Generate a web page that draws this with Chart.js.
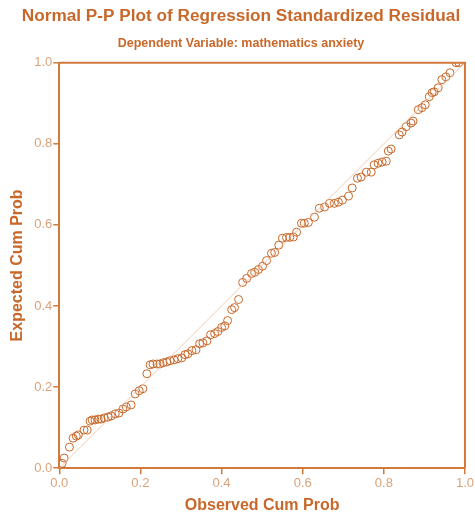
<!DOCTYPE html>
<html>
<head>
<meta charset="utf-8">
<script src="https://cdn.jsdelivr.net/npm/chart.js"></script>
<style>
  html, body { margin: 0; padding: 0; background: #fff; }
  #wrap { width: 475px; height: 518px; position: relative; }
</style>
</head>
<body>
<div id="wrap"><canvas id="pp"></canvas></div>
<script>
// Observed vs expected cumulative probabilities
const observed = [0.007, 0.012, 0.025, 0.034, 0.042, 0.047, 0.061, 0.069, 0.076, 0.081,
  0.088, 0.096, 0.103, 0.111, 0.120, 0.128, 0.138, 0.147, 0.157, 0.165,
  0.177, 0.187, 0.197, 0.206, 0.216, 0.224, 0.231, 0.241, 0.248, 0.256,
  0.265, 0.273, 0.283, 0.292, 0.302, 0.310, 0.317, 0.327, 0.337, 0.346,
  0.354, 0.364, 0.373, 0.383, 0.391, 0.400, 0.408, 0.415, 0.425, 0.432,
  0.442, 0.452, 0.462, 0.474, 0.482, 0.491, 0.501, 0.511, 0.523, 0.531,
  0.541, 0.550, 0.560, 0.568, 0.577, 0.585, 0.597, 0.604, 0.614, 0.629,
  0.641, 0.654, 0.666, 0.678, 0.688, 0.698, 0.713, 0.722, 0.735, 0.744,
  0.757, 0.769, 0.776, 0.786, 0.796, 0.806, 0.811, 0.818, 0.838, 0.845,
  0.855, 0.867, 0.872, 0.885, 0.894, 0.902, 0.912, 0.919, 0.924, 0.934,
  0.943, 0.953, 0.963, 0.978, 0.985];
const expected = [0.012, 0.025, 0.052, 0.074, 0.079, 0.082, 0.094, 0.094, 0.116, 0.119,
  0.119, 0.121, 0.121, 0.124, 0.126, 0.129, 0.134, 0.136, 0.146, 0.151,
  0.156, 0.183, 0.191, 0.196, 0.233, 0.255, 0.257, 0.257, 0.257, 0.260,
  0.262, 0.265, 0.267, 0.270, 0.272, 0.280, 0.282, 0.290, 0.292, 0.307,
  0.309, 0.314, 0.329, 0.332, 0.337, 0.347, 0.351, 0.364, 0.391, 0.396,
  0.416, 0.458, 0.468, 0.480, 0.483, 0.490, 0.498, 0.512, 0.530, 0.532,
  0.550, 0.567, 0.569, 0.569, 0.570, 0.582, 0.604, 0.604, 0.606, 0.619,
  0.641, 0.644, 0.653, 0.653, 0.656, 0.661, 0.671, 0.691, 0.715, 0.718,
  0.730, 0.730, 0.748, 0.752, 0.755, 0.757, 0.782, 0.787, 0.822, 0.829,
  0.842, 0.851, 0.856, 0.884, 0.889, 0.896, 0.916, 0.926, 0.928, 0.938,
  0.958, 0.965, 0.975, 1.000, 1.000];
const refLine = [0, 1];
const tickValues = [0, 0.2, 0.4, 0.6, 0.8, 1.0];

const ORANGE = '#c8682a';
const AXIS = '#d17a3c';
const TICKTXT = '#d9a27a';

// closes the frame on the top and right sides
const frame = {
  id: 'frame',
  afterDatasetsDraw(chart) {
    const a = chart.chartArea, c = chart.ctx;
    c.save();
    c.strokeStyle = AXIS;
    c.lineWidth = 2;
    c.beginPath();
    c.moveTo(a.left, a.top);
    c.lineTo(a.right, a.top);
    c.lineTo(a.right, a.bottom);
    c.stroke();
    c.restore();
  }
};

const axisOpts = (title) => ({
  type: 'linear', min: 0, max: 1,
  afterBuildTicks: (ax) => { ax.ticks = tickValues.map(v => ({ value: v })); },
  grid: { drawOnChartArea: false, drawTicks: true, tickLength: 6, color: AXIS, lineWidth: 1.5 },
  border: { color: AXIS, width: 2 },
  ticks: { color: TICKTXT, padding: 1, font: { family: 'Liberation Sans', size: 13 },
           callback: v => v.toFixed(1) },
  title: { display: true, text: title, color: ORANGE,
           font: { family: 'Liberation Sans', size: 16, weight: 'bold' } }
});

const xAx = axisOpts('Observed Cum Prob');
xAx.title.padding = { top: 4, bottom: 0 };
const yAx = axisOpts('Expected Cum Prob');
yAx.title.padding = { top: 0, bottom: 6 };

new Chart(document.getElementById('pp'), {
  type: 'scatter',
  data: {
    datasets: [
      {
        label: 'reference',
        type: 'line',
        data: refLine.map(v => ({ x: v, y: v })),
        borderColor: 'rgba(236,190,160,0.8)',
        borderWidth: 1,
        pointRadius: 0,
        fill: false
      },
      {
        label: 'residuals',
        data: observed.map((x, i) => ({ x: x, y: expected[i] })),
        pointStyle: 'circle',
        pointRadius: 4,
        borderColor: ORANGE,
        borderWidth: 1,
        backgroundColor: 'rgba(0,0,0,0)'
      }
    ]
  },
  options: {
    responsive: true,
    maintainAspectRatio: false,
    animation: false,
    layout: { padding: { left: 8, right: 1, top: 0, bottom: 3 } },
    plugins: {
      legend: { display: false },
      tooltip: { enabled: false },
      title: {
        display: true,
        text: 'Normal P-P Plot of Regression Standardized Residual',
        color: ORANGE,
        font: { family: 'Liberation Sans', size: 17.2, weight: 'bold' },
        padding: { top: 6, bottom: 8 }
      },
      subtitle: {
        display: true,
        text: 'Dependent Variable: mathematics anxiety',
        color: ORANGE,
        font: { family: 'Liberation Sans', size: 12.5, weight: 'bold' },
        padding: { top: 1, bottom: 12 }
      }
    },
    scales: { x: xAx, y: yAx }
  },
  plugins: [frame]
});
</script>
</body>
</html>
